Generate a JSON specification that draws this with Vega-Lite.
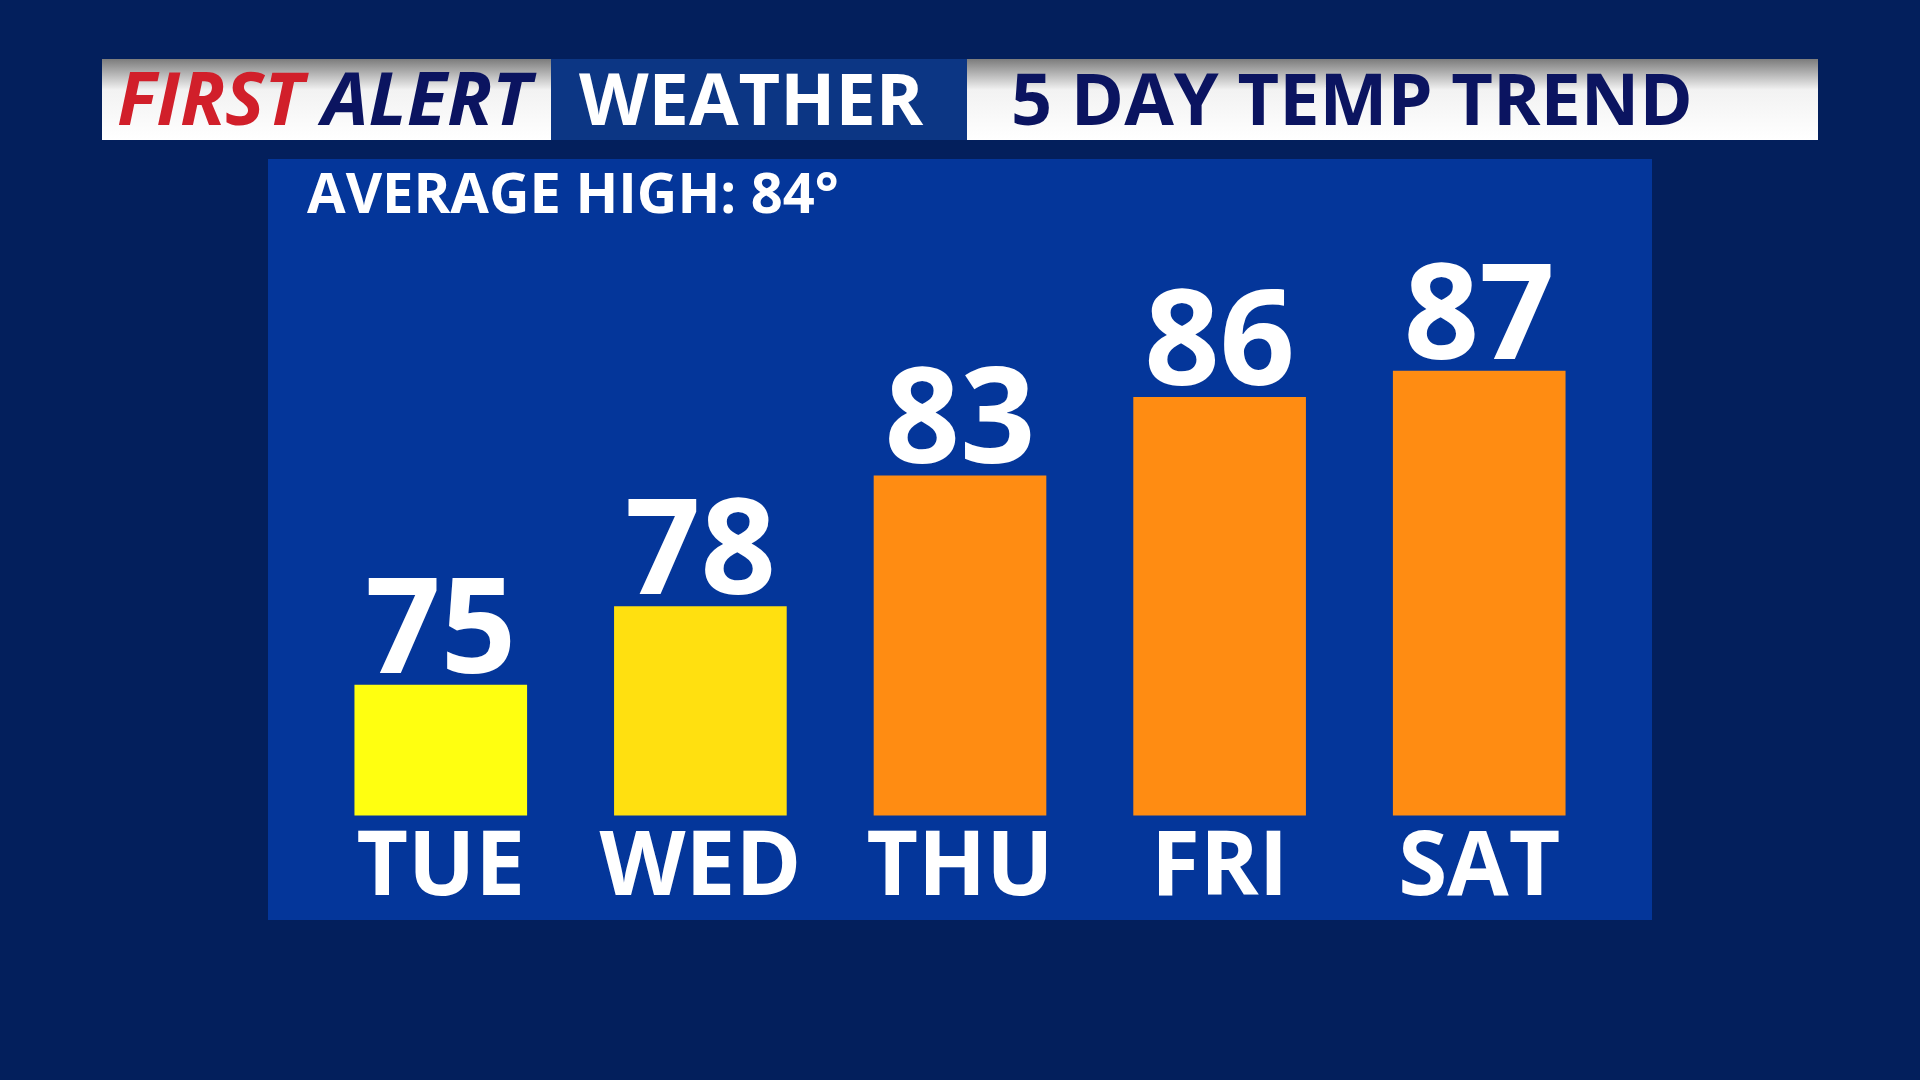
{
  "$schema": "https://vega.github.io/schema/vega-lite/v6.json",
  "width": 1384,
  "height": 761,
  "autosize": {"type": "none"},
  "padding": {"left": 268, "top": 159, "right": 268, "bottom": 160},
  "background": "#031f5c",
  "view": {"fill": "#04369a", "stroke": null},
  "config": {"font": "Open Sans"},
  "datasets": {
    "temps": [
      {"day": "TUE", "temp": 75},
      {"day": "WED", "temp": 78},
      {"day": "THU", "temp": 83},
      {"day": "FRI", "temp": 86},
      {"day": "SAT", "temp": 87}
    ],
    "header": [{"label": "header"}]
  },
  "layer": [
    {
      "data": {"name": "header"},
      "mark": {"type": "rect", "fill": {"gradient": "linear", "x1": 0, "y1": 0, "x2": 0, "y2": 1, "stops": [{"offset": 0, "color": "#7c7c7c"}, {"offset": 0.38, "color": "#f2f2f2"}, {"offset": 1, "color": "#ffffff"}]}},
      "encoding": {"x": {"value": -166}, "x2": {"value": 283}, "y": {"value": -100}, "y2": {"value": -19}}
    },
    {
      "data": {"name": "header"},
      "mark": {"type": "rect", "fill": "#0c3684"},
      "encoding": {"x": {"value": 283}, "x2": {"value": 699}, "y": {"value": -100}, "y2": {"value": -19}}
    },
    {
      "data": {"name": "header"},
      "mark": {"type": "rect", "fill": {"gradient": "linear", "x1": 0, "y1": 0, "x2": 0, "y2": 1, "stops": [{"offset": 0, "color": "#7c7c7c"}, {"offset": 0.38, "color": "#f2f2f2"}, {"offset": 1, "color": "#ffffff"}]}},
      "encoding": {"x": {"value": 699}, "x2": {"value": 1550}, "y": {"value": -100}, "y2": {"value": -19}}
    },
    {
      "data": {"name": "header"},
      "mark": {"type": "text", "text": "FIRST", "font": "Open Sans", "fontWeight": "bold", "fontStyle": "italic", "fontSize": 74, "fill": "#d11f2a", "align": "left", "baseline": "alphabetic"},
      "encoding": {"x": {"value": -151}, "y": {"value": -34}}
    },
    {
      "data": {"name": "header"},
      "mark": {"type": "text", "text": "ALERT", "font": "Open Sans", "fontWeight": "bold", "fontStyle": "italic", "fontSize": 74, "fill": "#0b1460", "align": "left", "baseline": "alphabetic"},
      "encoding": {"x": {"value": 54}, "y": {"value": -34}}
    },
    {
      "data": {"name": "header"},
      "mark": {"type": "text", "text": "WEATHER", "font": "Open Sans", "fontWeight": "bold", "fontSize": 72, "fill": "#ffffff", "align": "left", "baseline": "alphabetic"},
      "encoding": {"x": {"value": 311}, "y": {"value": -34}}
    },
    {
      "data": {"name": "header"},
      "mark": {"type": "text", "text": "5 DAY TEMP TREND", "font": "Open Sans", "fontWeight": "bold", "fontSize": 72, "fill": "#0b1460", "align": "left", "baseline": "alphabetic"},
      "encoding": {"x": {"value": 743}, "y": {"value": -34}}
    },
    {
      "data": {"name": "header"},
      "mark": {"type": "text", "text": "AVERAGE HIGH: 84°", "font": "Open Sans", "fontWeight": "bold", "fontSize": 56, "fill": "#ffffff", "align": "left", "baseline": "alphabetic"},
      "encoding": {"x": {"value": 39}, "y": {"value": 54}}
    },
    {
      "data": {"name": "temps"},
      "mark": {"type": "bar"},
      "encoding": {
        "x": {"field": "day", "type": "nominal", "sort": null, "axis": null, "scale": {"paddingInner": 0.335, "paddingOuter": 0.333}},
        "y": {"field": "temp", "type": "quantitative", "axis": null, "scale": {"domain": [66, 95.1], "zero": false, "nice": false}},
        "y2": {"datum": 70},
        "color": {"field": "temp", "type": "quantitative", "legend": null, "scale": {"type": "threshold", "domain": [77, 80], "range": ["#ffff10", "#ffe010", "#ff8c12"]}}
      }
    },
    {
      "data": {"name": "temps"},
      "mark": {"type": "text", "font": "Open Sans", "fontWeight": "bold", "fontSize": 132, "fill": "#ffffff", "align": "center", "baseline": "alphabetic", "dy": -12},
      "encoding": {
        "x": {"field": "day", "type": "nominal", "sort": null},
        "y": {"field": "temp", "type": "quantitative"},
        "text": {"field": "temp", "type": "quantitative"}
      }
    },
    {
      "data": {"name": "temps"},
      "mark": {"type": "text", "font": "Open Sans", "fontWeight": "bold", "fontSize": 89, "fill": "#ffffff", "align": "center", "baseline": "alphabetic", "dy": 80},
      "encoding": {
        "x": {"field": "day", "type": "nominal", "sort": null},
        "y": {"datum": 70},
        "text": {"field": "day", "type": "nominal"}
      }
    }
  ]
}
